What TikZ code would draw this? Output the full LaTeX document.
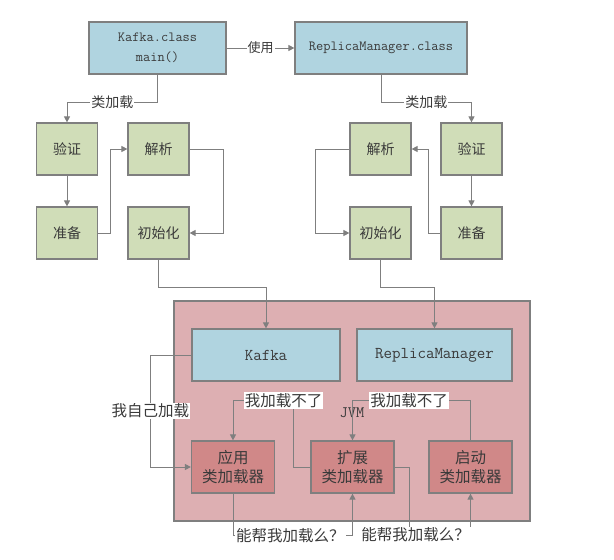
\documentclass[tikz,border=0pt]{standalone}
\usepackage{fontspec}
\newfontfamily\cjk{Noto Sans CJK SC}
\usetikzlibrary{arrows.meta}
\definecolor{boxblue}{HTML}{B0D4E0}
\definecolor{boxgreen}{HTML}{D0DDB8}
\definecolor{jvmpink}{HTML}{DDAFB2}
\definecolor{loaderred}{HTML}{D08888}
\definecolor{edgegray}{HTML}{7F7F7F}
\definecolor{textgray}{HTML}{3A3A3A}
\tikzset{
  box/.style={draw=edgegray, line width=1.2pt, inner sep=0pt, align=center, text=textgray},
  classbox/.style={box, fill=boxblue, minimum height=52pt, font=\fontsize{14}{20}\selectfont\ttfamily},
  innerclass/.style={box, fill=boxblue, minimum height=52pt, font=\fontsize{16.5}{20}\selectfont\ttfamily},
  phase/.style={box, fill=boxgreen, minimum width=61pt, minimum height=52pt, font=\fontsize{14}{17}\selectfont\cjk},
  loader/.style={box, fill=loaderred, minimum width=83pt, minimum height=52pt, font=\fontsize{15.5}{19}\selectfont\cjk},
  jvmbox/.style={draw=edgegray, line width=1.2pt, fill=jvmpink, minimum width=356pt, minimum height=220pt, inner sep=0pt},
  flow/.style={draw=edgegray, line width=1pt, -{Triangle[length=6pt,width=6pt]}},
  lbl/.style={fill=white, inner sep=1pt, text=textgray, font=\fontsize{14}{16}\selectfont\cjk},
  biglbl/.style={lbl, font=\fontsize{15.5}{17}\selectfont\cjk}
}
\begin{document}
\begin{tikzpicture}[x=1pt, y=-1pt]
\useasboundingbox (0,0) rectangle (614,560);

% class files on disk
\node[classbox, minimum width=137pt] (kc) at (157.5,48) {Kafka.class\\main()};
\node[classbox, minimum width=172pt] (rc) at (381,48) {ReplicaManager.class};

% loading phases, left
\node[phase] (lv) at (67,149) {验证};
\node[phase] (lz) at (67,233) {准备};
\node[phase] (lj) at (158.5,149) {解析};
\node[phase] (lc) at (158.5,233) {初始化};

% loading phases, right
\node[phase] (rj) at (380.5,149) {解析};
\node[phase] (ri) at (380.5,233) {初始化};
\node[phase] (rv) at (471.5,149) {验证};
\node[phase] (rz) at (471.5,233) {准备};

% the JVM and its contents
\node[jvmbox] (jvm) at (352,411) {};
\node[text=textgray, font=\fontsize{16}{18}\selectfont\ttfamily] (jvmlabel) at (352,413) {JVM};
\node[innerclass, minimum width=148pt] (kafka) at (266,355) {Kafka};
\node[innerclass, minimum width=155pt] (rm) at (434.5,355) {ReplicaManager};
\node[loader] (app) at (233,467) {应用\\类加载器};
\node[loader] (ext) at (352.5,467) {扩展\\类加载器};
\node[loader] (boot) at (470.5,467) {启动\\类加载器};

% top row
\draw[flow] (kc.east) -- node[lbl, font=\fontsize{13}{15}\selectfont\cjk]{使用} (rc.west);
\draw[flow] (kc.south) -- (kc.south |- 0,102) -- node[lbl]{类加载} (lv.north |- 0,102) -- (lv.north);
\draw[flow] (rc.south) -- (rc.south |- 0,102) -- node[lbl]{类加载} (rv.north |- 0,102) -- (rv.north);

% left chain
\draw[flow] (lv.south) -- (lz.north);
\draw[flow] (lz.east) -- ++(12,0) |- (lj.west);
\draw[flow] (lj.east) -- ++(34,0) |- (lc.east);
\draw[flow] (lc.south) -- ++(0,28) -| (kafka.north);

% right chain
\draw[flow] (rv.south) -- (rz.north);
\draw[flow] (rz.west) -- ++(-12,0) |- (rj.east);
\draw[flow] (rj.west) -- ++(-34,0) |- (ri.west);
\draw[flow] (ri.south) -- ++(0,28) -| (rm.north);

% parent delegation
\draw[flow] (kafka.west) -- ++(-41,0) |- node[biglbl, pos=0.25]{我自己加载} (app.west);
\draw[flow] (app.south) -- ++(0,42) -| node[biglbl, pos=0.24]{能帮我加载么？} (ext.south);
\draw[flow] (ext.east) -- ++(15,0) -- ++(0,68) -| node[biglbl, pos=0.05]{能帮我加载么？} (boot.south);
\draw[flow] (boot.north) -- ++(0,-40) -| node[biglbl, pos=0.26]{我加载不了} (ext.north);
\draw[flow] (ext.west) -- ++(-17,0) |- node[biglbl, pos=0.58]{我加载不了} ([yshift=40pt]app.north) -- (app.north);
\end{tikzpicture}
\end{document}
